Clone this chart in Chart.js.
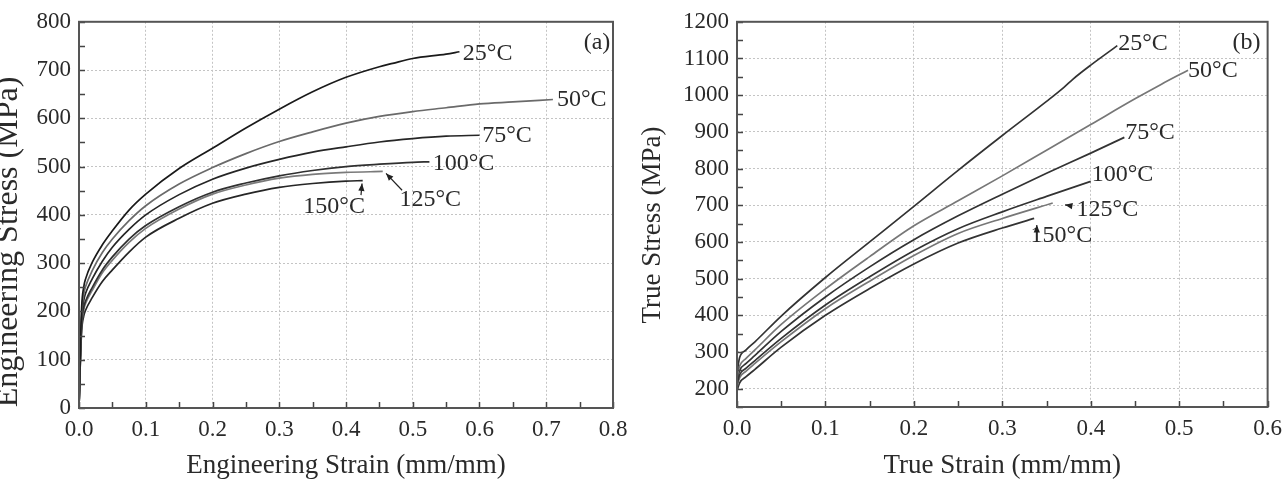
<!DOCTYPE html>
<html>
<head>
<meta charset="utf-8">
<script src="https://cdn.jsdelivr.net/npm/chart.js@4.4.1/dist/chart.umd.min.js"></script>
<style>
  html, body { margin: 0; padding: 0; background: #fff; overflow: hidden; }
  body { width: 1283px; height: 486px; position: relative; }
  #engWrap { position: absolute; left: 0; top: 0; width: 640px; height: 486px; }
  #trueWrap { position: absolute; left: 640px; top: 0; width: 650px; height: 486px; }
</style>
</head>
<body>
<div id="engWrap"><canvas id="engChart"></canvas></div>
<div id="trueWrap"><canvas id="trueChart"></canvas></div>
<script>
// temperatures
const temps = ["25°C", "50°C", "75°C", "100°C", "125°C", "150°C"];

// (a) engineering strain / engineering stress (MPa)
const eng25 = [[0,0],[0.002,120],[0.004,210],[0.007,250],[0.01,268],[0.02,302],[0.035,338],[0.05,367],[0.075,410],[0.1,443],[0.15,496],[0.2,538],[0.25,580],[0.3,619],[0.35,655],[0.4,685],[0.45,707],[0.47,714],[0.5,724],[0.55,733],[0.57,738]];
const eng50 = [[0,0],[0.002,110],[0.004,195],[0.007,235],[0.01,252],[0.02,285],[0.035,322],[0.05,350],[0.075,388],[0.1,419],[0.15,464],[0.2,498],[0.25,527],[0.3,552],[0.35,572],[0.4,590],[0.45,604],[0.5,614],[0.55,622],[0.6,630],[0.65,634],[0.71,639]];
const eng75 = [[0,0],[0.002,105],[0.004,185],[0.007,222],[0.01,238],[0.02,268],[0.035,304],[0.05,333],[0.075,370],[0.1,400],[0.15,442],[0.2,474],[0.25,497],[0.3,515],[0.35,530],[0.4,541],[0.45,551],[0.5,558],[0.55,563],[0.6,565]];
const eng100 = [[0,0],[0.002,100],[0.004,175],[0.007,208],[0.01,222],[0.02,250],[0.035,286],[0.05,313],[0.075,350],[0.1,378],[0.15,417],[0.2,447],[0.25,466],[0.3,481],[0.35,492],[0.4,500],[0.45,505],[0.5,509],[0.525,510]];
const eng125 = [[0,0],[0.002,98],[0.004,170],[0.007,203],[0.01,217],[0.02,244],[0.035,280],[0.05,306],[0.075,343],[0.1,372],[0.15,412],[0.2,443],[0.25,462],[0.3,476],[0.35,484],[0.4,488],[0.455,490]];
const eng150 = [[0,0],[0.002,95],[0.004,160],[0.007,190],[0.01,203],[0.02,229],[0.035,262],[0.05,286],[0.075,323],[0.1,354],[0.15,393],[0.2,424],[0.25,443],[0.3,457],[0.35,465],[0.4,470],[0.425,471]];

// (b) true strain / true stress (MPa)
const true25 = [[0,245],[0.003,285],[0.01,305],[0.02,327],[0.05,398],[0.1,503],[0.15,600],[0.2,697],[0.25,795],[0.3,890],[0.35,983],[0.37,1022],[0.38,1044],[0.4,1082],[0.43,1135]];
const true50 = [[0,232],[0.003,262],[0.01,282],[0.02,305],[0.05,375],[0.1,472],[0.15,560],[0.2,644],[0.25,712],[0.3,780],[0.35,850],[0.4,920],[0.45,990],[0.48,1030],[0.51,1068]];
const true75 = [[0,222],[0.003,250],[0.01,268],[0.02,290],[0.05,356],[0.1,450],[0.15,532],[0.2,606],[0.25,671],[0.3,730],[0.35,787],[0.4,842],[0.438,885]];
const true100 = [[0,212],[0.003,238],[0.01,255],[0.02,276],[0.05,337],[0.1,428],[0.15,505],[0.2,576],[0.25,636],[0.3,682],[0.35,724],[0.4,765]];
const true125 = [[0,205],[0.003,230],[0.01,247],[0.02,268],[0.05,328],[0.1,418],[0.15,493],[0.2,563],[0.25,623],[0.3,664],[0.357,706]];
const true150 = [[0,195],[0.003,216],[0.01,232],[0.02,252],[0.05,313],[0.1,400],[0.15,473],[0.2,540],[0.25,597],[0.3,638],[0.336,664]];

// tick labels
const engXTicks = [0, 0.1, 0.2, 0.3, 0.4, 0.5, 0.6, 0.7, 0.8];
const engYTicks = [0, 100, 200, 300, 400, 500, 600, 700, 800];
const trueXTicks = [0, 0.1, 0.2, 0.3, 0.4, 0.5, 0.6];
const trueYTicks = [200, 300, 400, 500, 600, 700, 800, 900, 1000, 1100, 1200];

const SERIF = "'Liberation Serif', 'Times New Roman', serif";
const engColors = ["#1a1a1a", "#6a6a6a", "#262626", "#303030", "#7a7a7a", "#262626"];
const trueColors = ["#333", "#777", "#333", "#333", "#777", "#333"];

function makeSets(series, colors) {
  return series.map((pts, i) => ({
    label: temps[i],
    data: pts.map(p => ({ x: p[0], y: p[1] })),
    borderColor: colors[i],
    borderWidth: 1.7,
    pointRadius: 0,
    fill: false,
    cubicInterpolationMode: "monotone",
  }));
}

// inner ticks, frame, curve labels, arrows and rotated y title
const decor = {
  id: "decor",
  afterDraw(chart, args, o) {
    const { ctx, chartArea: a } = chart;
    const sx = chart.scales.x, sy = chart.scales.y;
    ctx.save();
    ctx.strokeStyle = "#444";
    ctx.lineWidth = 1.5;
    ctx.beginPath();
    for (let v = sx.min; v <= sx.max + 1e-9; v += o.xMinor) {
      const px = Math.round(sx.getPixelForValue(v)) + 0.5;
      ctx.moveTo(px, a.bottom); ctx.lineTo(px, a.bottom - 6);
    }
    for (let v = o.yMinorStart; v <= sy.max + 1e-9; v += o.yMinor) {
      const py = Math.round(sy.getPixelForValue(v)) + 0.5;
      ctx.moveTo(a.left, py); ctx.lineTo(a.left + 6, py);
    }
    ctx.stroke();

    ctx.strokeStyle = "#555";
    ctx.lineWidth = 2;
    ctx.strokeRect(a.left, a.top, a.right - a.left, a.bottom - a.top);

    ctx.fillStyle = "#2a2a2a";
    ctx.font = "24px " + SERIF;
    ctx.textBaseline = "middle";
    o.texts.forEach(t => {
      ctx.textAlign = t.align || "left";
      ctx.fillText(t.text, sx.getPixelForValue(t.x), sy.getPixelForValue(t.y));
    });

    ctx.strokeStyle = "#222";
    ctx.lineWidth = 1.2;
    o.arrows.forEach(ar => {
      const x1 = sx.getPixelForValue(ar.from[0]), y1 = sy.getPixelForValue(ar.from[1]);
      const x2 = sx.getPixelForValue(ar.to[0]), y2 = sy.getPixelForValue(ar.to[1]);
      const ang = Math.atan2(y2 - y1, x2 - x1);
      ctx.beginPath(); ctx.moveTo(x1, y1); ctx.lineTo(x2, y2); ctx.stroke();
      ctx.beginPath();
      ctx.moveTo(x2, y2);
      ctx.lineTo(x2 - 8 * Math.cos(ang - 0.4), y2 - 8 * Math.sin(ang - 0.4));
      ctx.lineTo(x2 - 8 * Math.cos(ang + 0.4), y2 - 8 * Math.sin(ang + 0.4));
      ctx.closePath();
      ctx.fillStyle = "#222";
      ctx.fill();
    });

    ctx.fillStyle = "#2a2a2a";
    ctx.font = o.yTitleSize + "px " + SERIF;
    ctx.translate(o.yTitleX, o.yTitleY);
    ctx.rotate(-Math.PI / 2);
    ctx.textAlign = "center";
    ctx.textBaseline = "alphabetic";
    ctx.fillText(o.yTitle, 0, 0);
    ctx.restore();
  }
};

function axisOpts(ticks, digits, fitSize, isX, min, max, title) {
  return {
    type: "linear",
    min: min,
    max: max,
    afterBuildTicks: s => { s.ticks = ticks.map(v => ({ value: v })); },
    afterFit: s => { if (isX) s.height = fitSize; else s.width = fitSize; },
    ticks: {
      padding: 8,
      color: "#2a2a2a",
      font: { family: SERIF, size: 23 },
      callback: v => Number(v).toFixed(digits),
    },
    grid: { color: "#c4c4c4", lineWidth: 1, drawTicks: false },
    border: { display: false, dash: [2, 2] },
    title: title ? { display: true, text: title, color: "#2a2a2a", font: { family: SERIF, size: 27 }, padding: { top: 12 } } : { display: false },
  };
}

const engChart = new Chart(document.getElementById("engChart"), {
  type: "line",
  data: { datasets: makeSets([eng25, eng50, eng75, eng100, eng125, eng150], engColors) },
  options: {
    responsive: true,
    maintainAspectRatio: false,
    animation: false,
    layout: { padding: { top: 10, right: 27, left: 0, bottom: 0 } },
    scales: {
      x: axisOpts(engXTicks, 1, 78, true, 0, 0.8, "Engineering Strain (mm/mm)"),
      y: axisOpts(engYTicks, 0, 79, false, 0, 800, null),
    },
    plugins: {
      legend: { display: false },
      tooltip: { enabled: false },
      decor: {
        xMinor: 0.05, yMinor: 50, yMinorStart: 0,
        texts: [
          { text: temps[0], x: 0.575, y: 734 },
          { text: temps[1], x: 0.716, y: 639 },
          { text: temps[2], x: 0.604, y: 564 },
          { text: temps[3], x: 0.530, y: 506 },
          { text: temps[4], x: 0.480, y: 431 },
          { text: temps[5], x: 0.336, y: 417 },
          { text: "(a)", x: 0.796, y: 757, align: "right" },
        ],
        arrows: [
          { from: [0.484, 451], to: [0.460, 486] },
          { from: [0.4225, 441], to: [0.424, 465] },
        ],
        yTitle: "Engineering Stress (MPa)", yTitleSize: 32, yTitleX: 17, yTitleY: 242,
      },
    },
  },
  plugins: [decor],
});

const trueChart = new Chart(document.getElementById("trueChart"), {
  type: "line",
  data: { datasets: makeSets([true25, true50, true75, true100, true125, true150], trueColors) },
  options: {
    responsive: true,
    maintainAspectRatio: false,
    animation: false,
    layout: { padding: { top: 10, right: 20, left: 0, bottom: 0 } },
    scales: {
      x: axisOpts(trueXTicks, 1, 79, true, 0, 0.6, "True Strain (mm/mm)"),
      y: axisOpts(trueYTicks, 0, 97, false, 150, 1200, null),
    },
    plugins: {
      legend: { display: false },
      tooltip: { enabled: false },
      decor: {
        xMinor: 0.05, yMinor: 50, yMinorStart: 150,
        texts: [
          { text: temps[0], x: 0.431, y: 1139 },
          { text: temps[1], x: 0.510, y: 1068 },
          { text: temps[2], x: 0.439, y: 898 },
          { text: temps[3], x: 0.401, y: 782 },
          { text: temps[4], x: 0.384, y: 689 },
          { text: temps[5], x: 0.332, y: 618 },
          { text: "(b)", x: 0.592, y: 1142, align: "right" },
        ],
        arrows: [
          { from: [0.378, 698], to: [0.371, 701] },
          { from: [0.339, 636], to: [0.339, 646] },
        ],
        yTitle: "True Stress (MPa)", yTitleSize: 27, yTitleX: 20, yTitleY: 225,
      },
    },
  },
  plugins: [decor],
});
</script>
</body>
</html>
